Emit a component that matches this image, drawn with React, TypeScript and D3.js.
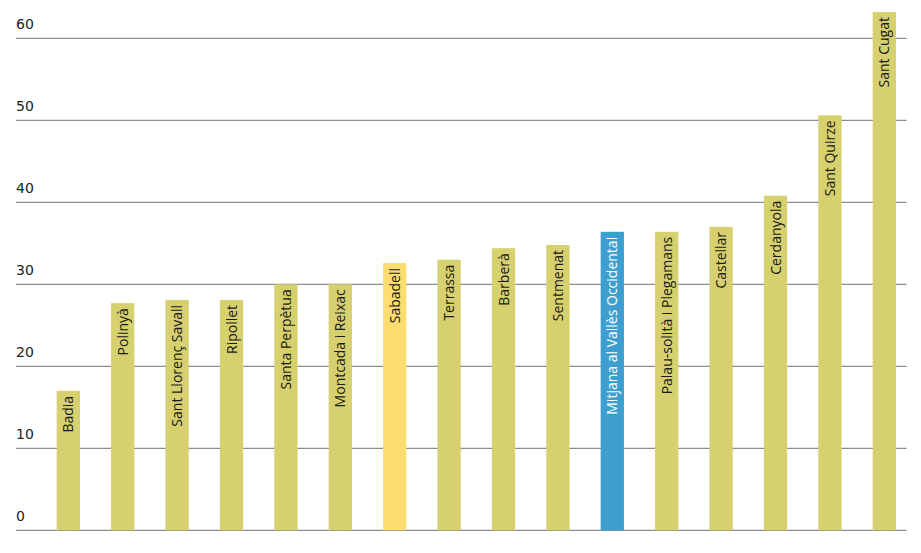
import React, { useEffect, useRef } from "react";
import * as d3 from "d3";

const categories = [
  "Badia",
  "Polinyà",
  "Sant Llorenç Savall",
  "Ripollet",
  "Santa Perpètua",
  "Montcada i Reixac",
  "Sabadell",
  "Terrassa",
  "Barberà",
  "Sentmenat",
  "Mitjana al Vallès Occidental",
  "Palau-solità i Plegamans",
  "Castellar",
  "Cerdanyola",
  "Sant Quirze",
  "Sant Cugat",
];
const values = [17.0, 27.7, 28.1, 28.1, 30.0, 30.0, 32.6, 33.0, 34.4, 34.8, 36.4, 36.4, 37.0, 40.8, 50.6, 63.2];
const highlightYellow = ["Sabadell"];
const highlightBlue = ["Mitjana al Vallès Occidental"];
const yTicks = [0, 10, 20, 30, 40, 50, 60];

const W = 921;
const H = 553;

export default function App() {
  const ref = useRef<SVGSVGElement>(null);
  useEffect(() => {
    const svg = d3.select(ref.current);
    svg.selectAll("*").remove();
    const y = d3.scaleLinear().domain([0, 60]).range([530.3, 38.3]);
    const x = d3
      .scaleBand<string>()
      .domain(categories)
      .range([41.1, 911.5])
      .paddingInner(0.572)
      .paddingOuter(0.286);

    const g = svg.append("g");
    g.selectAll("line.grid")
      .data(yTicks)
      .join("line")
      .attr("x1", 16)
      .attr("x2", 906.5)
      .attr("y1", (d) => y(d))
      .attr("y2", (d) => y(d))
      .attr("stroke", "#8c8c8c")
      .attr("stroke-width", 1.2);
    g.selectAll("text.tick")
      .data(yTicks)
      .join("text")
      .attr("x", 16)
      .attr("y", (d) => y(d) - 9)
      .attr("font-family", "'DejaVu Sans', sans-serif")
      .attr("font-size", 14)
      .attr("fill", "#222")
      .text((d) => String(d));

    const color = (c: string) =>
      highlightBlue.includes(c) ? "#3d9fcf" : highlightYellow.includes(c) ? "#fddd70" : "#d6d06f";

    const data = categories.map((c, i) => ({ c, v: values[i] }));
    g.selectAll("rect.bar")
      .data(data)
      .join("rect")
      .attr("x", (d) => x(d.c)!)
      .attr("width", x.bandwidth())
      .attr("y", (d) => y(d.v))
      .attr("height", (d) => y(0) - y(d.v))
      .attr("fill", (d) => color(d.c));

    g.selectAll("text.lbl")
      .data(data)
      .join("text")
      .attr("transform", (d) => `translate(${x(d.c)! + x.bandwidth() / 2 + 5},${y(d.v) + 5}) rotate(-90)`)
      .attr("text-anchor", "end")
      .attr("font-family", "'Open Sans', sans-serif")
      .attr("font-size", 14)
      .attr("fill", (d) => (highlightBlue.includes(d.c) ? "#ffffff" : "#1a1a1a"))
      .text((d) => d.c);
  }, []);
  return (
    <div style={{ position: "absolute", left: 0, top: 0 }}>
      <svg ref={ref} width={W} height={H} style={{ display: "block", background: "#fff" }} />
    </div>
  );
}
